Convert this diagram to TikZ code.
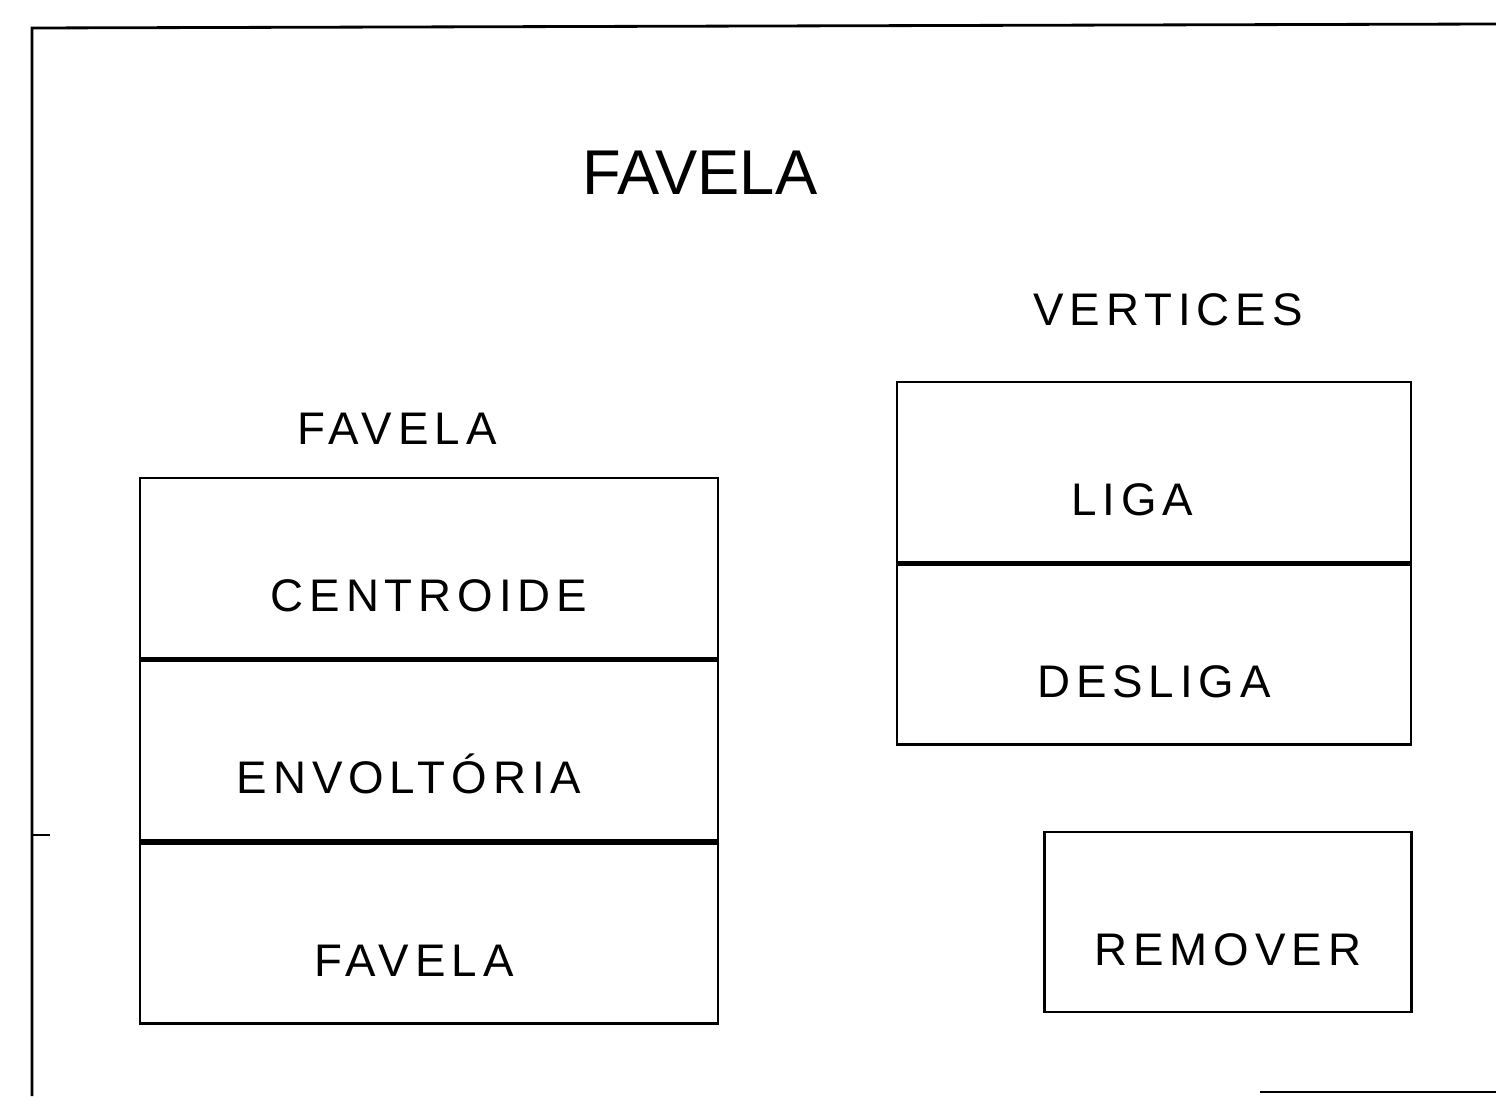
\documentclass[tikz,border=0pt]{standalone}
\usepackage{fontspec}
\newfontfamily\boxfont[LetterSpace=13]{Liberation Sans}
\newfontfamily\titlefont{Liberation Sans}
\usetikzlibrary{positioning}
\begin{document}
\begin{tikzpicture}[
  part/.style={draw, thick, minimum height=1.8cm, inner sep=0pt,
    text height=0.86cm, text depth=0pt,
    font=\boxfont\fontsize{13}{15}\selectfont},
  head/.style={font=\boxfont\fontsize{13}{15}\selectfont},
  title/.style={font=\titlefont\fontsize{18}{21}\selectfont}
]
  \useasboundingbox (0,0) rectangle (14.96,10.96);
  % frame (cut off at the right and the bottom)
  \draw[thick] (0.32,0) -- (0.32,10.68) -- (14.96,10.72);
  \draw[thick] (0.32,2.61) -- (0.5,2.61);
  \draw[thick] (12.6,0.04) -- (14.96,0.04);

  \node[title, anchor=base] (title) at (7.0,9.01) {FAVELA};

  % left stack
  \node[part, minimum width=5.78cm] (centroide) at (4.29,5.28) {CENTROIDE};
  \node[part, minimum width=5.78cm, below=0pt of centroide] (envoltoria) {\hspace*{-0.4cm}ENVOLTÓRIA};
  \node[part, minimum width=5.78cm, below=0pt of envoltoria] (favela) {\hspace*{-0.3cm}FAVELA};
  \node[head, above=0.2cm of centroide, xshift=-0.32cm] (favelahead) {FAVELA};

  % right stack
  \node[part, minimum width=5.14cm] (liga) at (11.54,6.24) {\hspace*{-0.44cm}LIGA};
  \node[part, minimum width=5.14cm, below=0pt of liga] (desliga) {DESLIGA};
  \node[head, above=0.42cm of liga, xshift=0.14cm] (vertices) {VERTICES};

  \node[part, minimum width=3.67cm] (remover) at (12.28,1.74) {REMOVER};
\end{tikzpicture}
\end{document}
